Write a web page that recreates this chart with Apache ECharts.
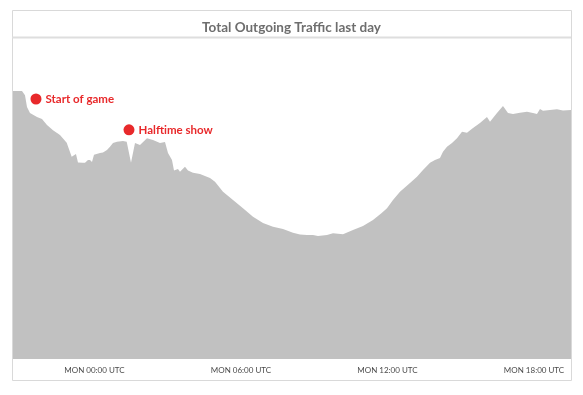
<!DOCTYPE html>
<html>
<head>
<meta charset="utf-8">
<script src="https://cdn.jsdelivr.net/npm/echarts@6/dist/echarts.min.js"></script>
<style>
html,body{margin:0;padding:0;background:#fff;}
#chart{width:583px;height:395px;}
</style>
</head>
<body>
<div id="chart"></div>
<script>
// hours relative to MON 00:00 UTC
var hours = [-3.335,-2.967,-2.844,-2.762,-2.639,-2.353,-2.148,-1.943,-1.697,-1.411,-1.136,-1.001,-0.932,-0.878,-0.756,-0.674,-0.469,-0.387,-0.264,-0.182,-0.100,-0.018,0.227,0.350,0.514,0.637,0.760,0.923,1.169,1.321,1.374,1.497,1.661,1.865,2.152,2.398,2.684,2.889,3.012,3.176,3.258,3.421,3.503,3.708,3.831,4.036,4.322,4.732,4.937,5.141,5.264,5.674,6.083,6.493,6.902,7.312,7.721,8.131,8.417,8.704,8.950,9.154,9.523,9.769,10.178,10.588,10.997,11.407,11.763,11.980,12.226,12.512,12.922,13.208,13.454,13.741,13.945,14.150,14.273,14.437,14.642,14.847,15.051,15.256,15.502,15.788,16.075,16.198,16.484,16.730,16.935,17.140,17.426,17.713,17.959,18.122,18.245,18.368,18.655,18.941,19.187,19.515];
var traffic = [83.5,83.5,82.2,78.5,76.6,75.4,74.8,72.9,71.3,69.8,67.4,64.5,63.0,63.6,63.9,61.2,61.1,61.1,62.0,62.0,61.4,63.6,64.2,64.3,65.1,66.1,67.3,67.7,67.9,67.7,67.7,61.1,67.3,66.7,68.8,68.2,67.3,67.6,64.2,62.0,58.7,59.2,58.3,59.9,58.7,58.0,57.6,56.4,55.2,53.3,52.1,49.5,47.0,44.3,42.4,41.2,40.5,39.3,38.8,38.6,38.6,38.3,38.6,39.2,38.9,40.2,41.4,43.3,45.5,47.0,49.5,52.1,54.8,56.8,58.9,61.1,62.0,62.6,64.6,66.1,67.3,68.8,70.8,70.5,72.0,73.5,75.4,73.9,76.6,78.8,76.6,76.3,76.7,77.0,76.6,76.3,77.9,77.3,77.6,77.8,77.4,77.6];
var eventNames = ['Start of game','Halftime show'];
var eventHours = [-2.394, 1.415];
var eventValues = [81.0, 71.4];
var tickHours = [0, 6, 12, 18];
var tickDay = 'MON';

var areaData = hours.map(function(h,i){return [h, traffic[i]];});
var eventData = eventNames.map(function(n,i){return {name:n, value:[eventHours[i], eventValues[i]]};});

var chart = echarts.init(document.getElementById('chart'), null, {renderer:'canvas'});
chart.setOption({
  animation:false,
  backgroundColor:'#fff',
  title:{
    text:'Total Outgoing Traffic last day',
    left:'center', top:16,
    textStyle:{fontFamily:'Lato', fontSize:13.5, fontWeight:'bold', color:'#6e6e6e'}
  },
  graphic:[
    {type:'rect', shape:{x:12.5,y:10.5,width:559,height:370}, style:{fill:'none',stroke:'#d9d9d9',lineWidth:1}, silent:true, z:-1},
    {type:'line', shape:{x1:12,y1:37.5,x2:571,y2:37.5}, style:{stroke:'#dedede',lineWidth:2}, silent:true, z:-1}
  ],
  grid:{left:13, right:12, top:38, bottom:36},
  xAxis:{
    type:'value', min:-3.335, max:19.515,
    axisLine:{show:false}, axisTick:{show:false}, splitLine:{show:false},
    axisLabel:{
      customValues:tickHours,
      margin:7,
      fontFamily:'Lato', fontSize:8, color:'#4a4a4a',
      formatter:function(v){var h=Math.round(v); return tickDay+' '+(h<10?'0':'')+h+':00 UTC';}
    }
  },
  yAxis:{type:'value', min:0, max:100, show:false, splitLine:{show:false}},
  series:[
    {type:'line', data:areaData, showSymbol:false, symbol:'none',
     lineStyle:{width:0}, areaStyle:{color:'#c1c1c1', opacity:1}, z:1},
    {type:'scatter', data:eventData, symbolSize:11,
     itemStyle:{color:'#e8292b', opacity:1},
     label:{show:true, position:'right', distance:4, formatter:'{b}',
            fontFamily:'Lato', fontSize:11.5, fontWeight:'bold', color:'#e8292b'}, z:3}
  ]
});
</script>
</body>
</html>
